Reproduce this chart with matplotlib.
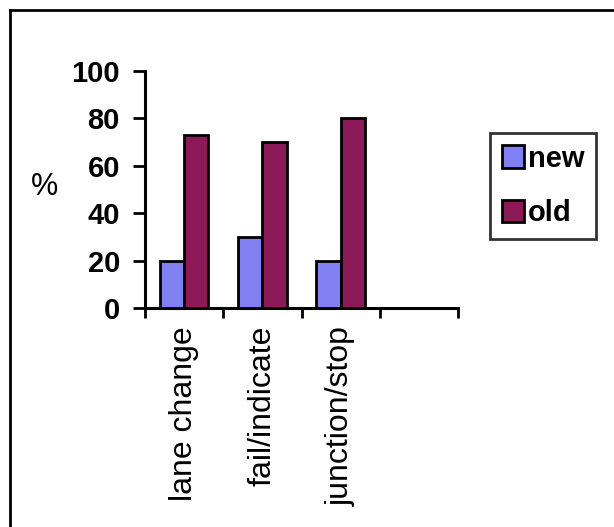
import numpy as np
import matplotlib
matplotlib.use("Agg")
import matplotlib.pyplot as plt
from matplotlib.lines import Line2D

categories = ["lane change", "fail/indicate", "junction/stop", ""]
new_vals = [20, 30, 20]
old_vals = [73, 70, 80]
yticks = [0, 20, 40, 60, 80, 100]

plt.rcParams["font.family"] = ["Liberation Sans", "DejaVu Sans"]

fig = plt.figure(figsize=(6.14, 5.27), dpi=100)
ax = fig.add_axes([145/614, 1-308/527, (458-145)/614, (308-71)/527])

x = np.arange(len(new_vals))
w = 0.31
ax.bar(x - w/2, new_vals, w, color="#8080f2", edgecolor="black", linewidth=2, label="new", zorder=3)
ax.bar(x + w/2, old_vals, w, color="#8c1a58", edgecolor="black", linewidth=2, label="old", zorder=3)

ax.set_xlim(-0.5, len(categories) - 0.5)
ax.set_ylim(0, 100)
ax.set_yticks(yticks)
ax.set_yticklabels([str(v) for v in yticks], fontsize=21, fontweight="bold")
ax.tick_params(axis="y", direction="out", length=9, width=2, pad=9)

# boundary ticks (major, no labels) + category labels (minor, no marks)
ax.set_xticks(np.arange(-0.5, len(categories), 1.0))
ax.set_xticklabels([])
ax.tick_params(axis="x", which="major", direction="out", length=7, width=2)
ax.set_xticks(np.arange(len(categories)), minor=True)
ax.set_xticklabels(categories, minor=True, rotation=90, fontsize=23, va="top")
ax.tick_params(axis="x", which="minor", length=0, pad=13)

for s in ["top", "right"]:
    ax.spines[s].set_visible(False)
for s in ["left", "bottom"]:
    ax.spines[s].set_linewidth(2.2)

fig.text(45/614, 1-187/527, "%", fontsize=22, ha="center", va="center")

leg = fig.legend(loc="upper left", bbox_to_anchor=(490/614, 1-133/527), fancybox=False,
                 frameon=True, edgecolor="black", prop={"size": 21, "weight": "bold"},
                 handlelength=0.75, handleheight=0.8, handletextpad=0.15,
                 borderpad=0.4, labelspacing=0.9, borderaxespad=0)
leg.get_frame().set_linewidth(2)

# outer chart border (top and left visible)
fig.add_artist(Line2D([10/614, 10/614], [0, 1-10/527], color="black", lw=2, transform=fig.transFigure))
fig.add_artist(Line2D([10/614, 1], [1-10/527, 1-10/527], color="black", lw=2, transform=fig.transFigure))

fig.savefig("out.png", dpi=100)
